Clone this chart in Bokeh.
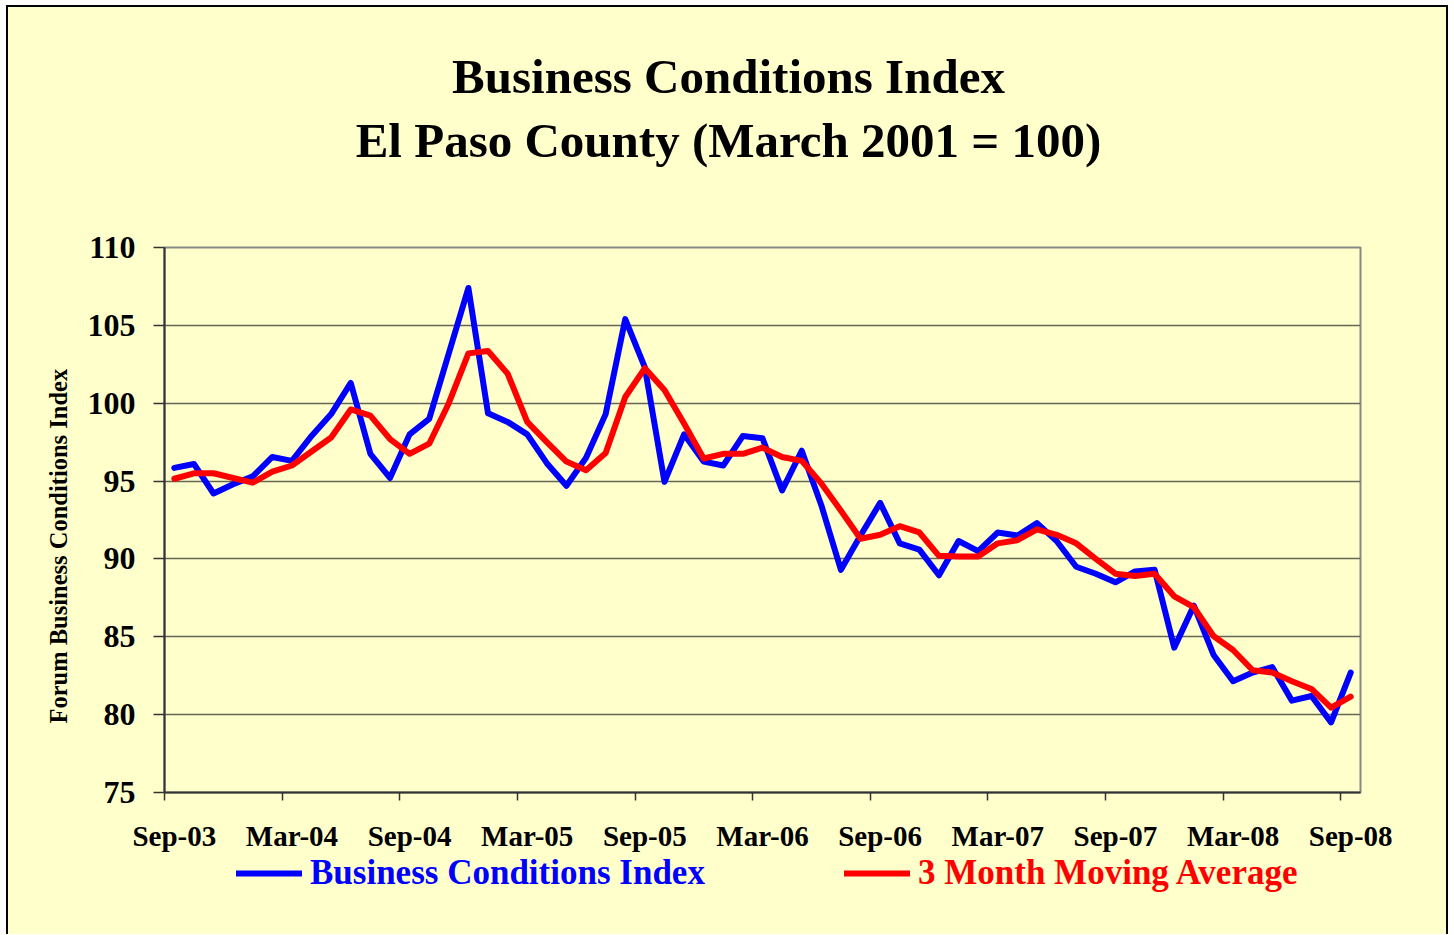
import pandas as pd
from bokeh.plotting import figure
from bokeh.layouts import column
from bokeh.models import ColumnDataSource, FixedTicker, Range1d, Title, Label, Legend, LegendItem
from bokeh.embed import file_html
from bokeh.resources import INLINE

# ---- data ----
months = list(pd.date_range("2003-09-01", periods=61, freq="MS").strftime("%b-%y"))

bci = [95.85, 96.1, 94.2, 94.8, 95.3, 96.55, 96.3, 97.9, 99.3, 101.3,
       96.75, 95.2, 98.0, 99.0, 103.2, 107.4, 99.35, 98.8, 98.0, 96.15,
       94.7, 96.5, 99.3, 105.4, 102.3, 94.95, 98.0, 96.25, 96.0, 97.9,
       97.75, 94.4, 96.95, 93.45, 89.3, 91.5, 93.6, 91.0, 90.6, 88.95,
       91.15, 90.5, 91.7, 91.5, 92.3, 91.15, 89.5, 89.05, 88.5, 89.2,
       89.3, 84.3, 87.0, 83.85, 82.15, 82.7, 83.05, 80.9, 81.2, 79.5, 82.7]

mavg = [95.15, 95.5, 95.5, 95.2, 94.9, 95.6, 96.0, 96.9, 97.8, 99.6,
        99.2, 97.7, 96.75, 97.4, 100.0, 103.2, 103.35, 101.9, 98.8, 97.5,
        96.25, 95.7, 96.8, 100.4, 102.25, 100.85, 98.7, 96.45, 96.75, 96.75,
        97.15, 96.55, 96.3, 94.85, 93.1, 91.3, 91.55, 92.1, 91.7, 90.2,
        90.15, 90.15, 91.0, 91.2, 91.9, 91.55, 91.0, 90.0, 89.05, 88.9,
        89.05, 87.6, 86.9, 85.05, 84.15, 82.85, 82.7, 82.15, 81.65, 80.45, 81.15]

label_step = 6
y_ticks = [75, 80, 85, 90, 95, 100, 105, 110]

title_lines = ["Business Conditions Index", "El Paso County (March 2001 = 100)"]
y_title = "Forum Business Conditions Index"
series_names = ["Business Conditions Index", "3 Month Moving Average"]

# ---- styling ----
BG = "#FFFFCC"
FONT = "Liberation Serif"
BLUE = "#0000FF"
RED = "#FF0000"
W = 1438

n = len(months)
x = list(range(n))
src = ColumnDataSource(dict(x=x, month=months, bci=bci, mavg=mavg))


def blank_fig(h):
    f = figure(width=W, height=h, output_backend="svg", toolbar_location=None,
               x_range=Range1d(0, 1), y_range=Range1d(0, 1),
               x_axis_type=None, y_axis_type=None, min_border=0,
               background_fill_color=BG, border_fill_color=BG)
    f.outline_line_color = None
    return f


# ---- title strip (frame is aligned with the main chart's frame by the column) ----
t = blank_fig(220)
for txt, yy in zip(title_lines, [151, 87.5]):
    t.add_layout(Label(x=564, y=yy, x_units="screen", y_units="screen", text=txt,
                       text_align="center", text_baseline="alphabetic",
                       text_font=FONT, text_font_style="bold", text_font_size="49px",
                       text_color="black"))

# ---- main chart ----
p = figure(width=W, height=627, output_backend="svg", toolbar_location=None,
           x_range=Range1d(-0.5, n - 0.5), y_range=Range1d(y_ticks[0], y_ticks[-1]),
           min_border_left=156, min_border_right=86, min_border_top=20, min_border_bottom=62,
           background_fill_color=BG, border_fill_color=BG)

r1 = p.line("x", "bci", source=src, line_color=BLUE, line_width=6,
            line_join="round", line_cap="round")
r2 = p.line("x", "mavg", source=src, line_color=RED, line_width=6,
            line_join="round", line_cap="round")

major = list(range(0, n, label_step))
xa = p.xaxis[0]
xa.ticker = FixedTicker(ticks=major, minor_ticks=[m - 0.5 for m in major])
xa.major_label_overrides = {m: months[m] for m in major}
xa.major_tick_out = 0
xa.major_tick_in = 0
xa.minor_tick_out = 8
xa.minor_tick_in = 0
xa.minor_tick_line_color = "#333333"
xa.minor_tick_line_width = 1.5
xa.axis_line_color = "#333333"
xa.axis_line_width = 2
xa.major_label_text_font = FONT
xa.major_label_text_font_style = "bold"
xa.major_label_text_font_size = "29px"
xa.major_label_text_color = "black"
xa.major_label_standoff = 19

ya = p.yaxis[0]
ya.ticker = FixedTicker(ticks=y_ticks)
ya.major_tick_out = 11
ya.major_tick_in = 0
ya.minor_tick_out = 0
ya.minor_tick_in = 0
ya.major_tick_line_color = "#333333"
ya.major_tick_line_width = 1.5
ya.axis_line_color = "#333333"
ya.axis_line_width = 2
ya.major_label_text_font = FONT
ya.major_label_text_font_style = "bold"
ya.major_label_text_font_size = "32px"
ya.major_label_text_color = "black"
ya.major_label_standoff = 18

p.xgrid.visible = False
p.ygrid.ticker = FixedTicker(ticks=y_ticks)
p.ygrid.grid_line_color = "#666655"
p.ygrid.grid_line_width = 1.5

p.outline_line_color = "#888888"
p.outline_line_width = 2

p.add_layout(Title(text=y_title, align="left", offset=69, standoff=25,
                   text_font=FONT, text_font_style="bold", text_font_size="24.5px",
                   text_color="black"), "left")

# ---- legend strip (its own hidden copies of the two series feed the legend) ----
q = blank_fig(80)
q1 = q.line("x", "bci", source=src, line_color=BLUE, line_width=6, line_cap="round", visible=False)
q2 = q.line("x", "mavg", source=src, line_color=RED, line_width=6, line_cap="round", visible=False)
for name, rend, col, loc in [(series_names[0], q1, BLUE, (72, 41)),
                             (series_names[1], q2, RED, (680, 41))]:
    leg = Legend(items=[LegendItem(label=name, renderers=[rend])], location=loc,
                 orientation="horizontal", glyph_width=66, glyph_height=20,
                 label_standoff=8, padding=0, margin=0, border_line_color=None,
                 background_fill_alpha=0, label_text_font=FONT,
                 label_text_font_style="bold", label_text_font_size="35px",
                 label_text_color=col)
    q.add_layout(leg)

page = column(t, p, q, spacing=0)
page.styles = {"margin-left": "6px", "margin-top": "5px", "box-sizing": "content-box",
               "background-color": BG,
               "border-top": "2px solid black", "border-left": "2px solid black",
               "border-right": "2px solid black"}

open("out.html", "w").write(file_html(page, INLINE))
